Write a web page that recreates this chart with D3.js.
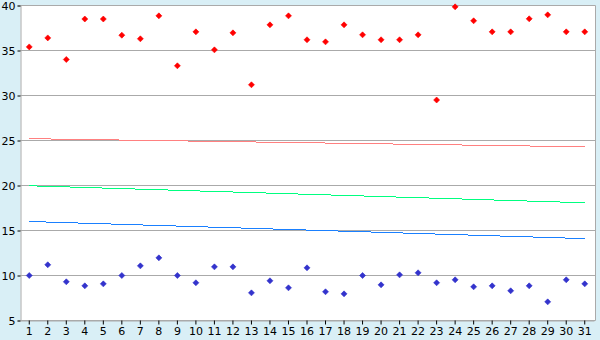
<!DOCTYPE html>
<html>
<head>
<meta charset="utf-8">
<script src="https://cdn.jsdelivr.net/npm/d3@7"></script>
<style>
  body { margin: 0; background: #d9eff6; }
  svg { display: block; }
  .tick text { font-family: "DejaVu Sans", Verdana, sans-serif; font-size: 11px; fill: #000; }
</style>
</head>
<body>
<div class="wrapper"></div>
<script>
const categories = d3.range(1, 32);

const redPoints = [35.4, 36.4, 34.0, 38.5, 38.5, 36.7, 36.3, 38.85, 33.3, 37.07,
    35.07, 36.96, 31.19, 37.85, 38.85, 36.19, 35.96, 37.85, 36.74, 36.19,
    36.19, 36.74, 29.5, 39.85, 38.3, 37.07, 37.07, 38.52, 38.96, 37.07, 37.07];

const bluePoints = [10.0, 11.19, 9.3, 8.85, 9.07, 10.0, 11.07, 11.96, 10.0, 9.19,
    10.96, 10.96, 8.07, 9.41, 8.63, 10.85, 8.19, 7.96, 10.0, 8.96,
    10.07, 10.3, 9.19, 9.52, 8.74, 8.85, 8.3, 8.85, 7.07, 9.52, 9.07];

// trend lines: value at first and last category
const lineEnds = [1, 31];
const redLine = [25.2, 24.3];
const greenLine = [19.97, 18.08];
const blueLine = [16.0, 14.1];

const yTicks = [5, 10, 15, 20, 25, 30, 35, 40];

const width = 600, height = 340;
const plot = {left: 20.5, right: 595.5, top: 5.5, bottom: 320.5};

const svg = d3.select(".wrapper").append("svg")
    .attr("width", width)
    .attr("height", height);

const x = d3.scaleBand().domain(categories).range([20, 594]);
const cx = d => x(d) + x.bandwidth() / 2;
const y = d3.scaleLinear().domain([5, 40]).range([plot.bottom, plot.top]);

// plot background
svg.append("rect")
    .attr("x", plot.left).attr("y", plot.top)
    .attr("width", plot.right - plot.left).attr("height", plot.bottom - plot.top)
    .attr("fill", "#fff");

// gridlines
svg.append("g").selectAll("line")
    .data(yTicks)
    .join("line")
    .attr("x1", plot.left).attr("x2", plot.right)
    .attr("y1", d => y(d)).attr("y2", d => y(d))
    .attr("stroke", "#aaa");

// right border
svg.append("line")
    .attr("x1", plot.right).attr("x2", plot.right)
    .attr("y1", plot.top).attr("y2", plot.bottom)
    .attr("stroke", "#aaa");

// y axis
const yAxis = svg.append("g")
    .attr("transform", `translate(${plot.left},0)`)
    .call(d3.axisLeft(y).tickValues(yTicks).tickSize(3).tickPadding(2));
yAxis.select(".domain").attr("stroke", "#aaa");
yAxis.selectAll(".tick line").attr("stroke", "#000");

// x axis
const xAxis = svg.append("g")
    .attr("transform", `translate(0,${plot.bottom})`)
    .call(d3.axisBottom(x).tickSize(4).tickPadding(3).tickSizeOuter(0));
xAxis.select(".domain").attr("stroke", "#aaa");
xAxis.selectAll(".tick line").attr("stroke", "#000");

// trend lines
const line = d3.line().x(d => cx(d[0])).y(d => y(d[1]));
[[redLine, "#ff8080"], [greenLine, "#00ff80"], [blueLine, "#1a80ff"]].forEach(([vals, color]) => {
    svg.append("path")
        .datum(lineEnds.map((c, i) => [c, vals[i]]))
        .attr("d", line)
        .attr("fill", "none")
        .attr("stroke", color)
        .attr("stroke-width", 1)
        .attr("shape-rendering", "crispEdges");
});

// markers
const diamond = "M0,-3L3,0L0,3L-3,0Z";
function drawPoints(vals, color) {
    svg.append("g").selectAll("path")
        .data(vals)
        .join("path")
        .attr("d", diamond)
        .attr("transform", (d, i) => `translate(${cx(categories[i])},${y(d)})`)
        .attr("fill", color)
        .attr("stroke", color)
        .attr("stroke-width", 0.6);
}
drawPoints(redPoints, "#ff0000");
drawPoints(bluePoints, "#3333cc");
</script>
</body>
</html>
